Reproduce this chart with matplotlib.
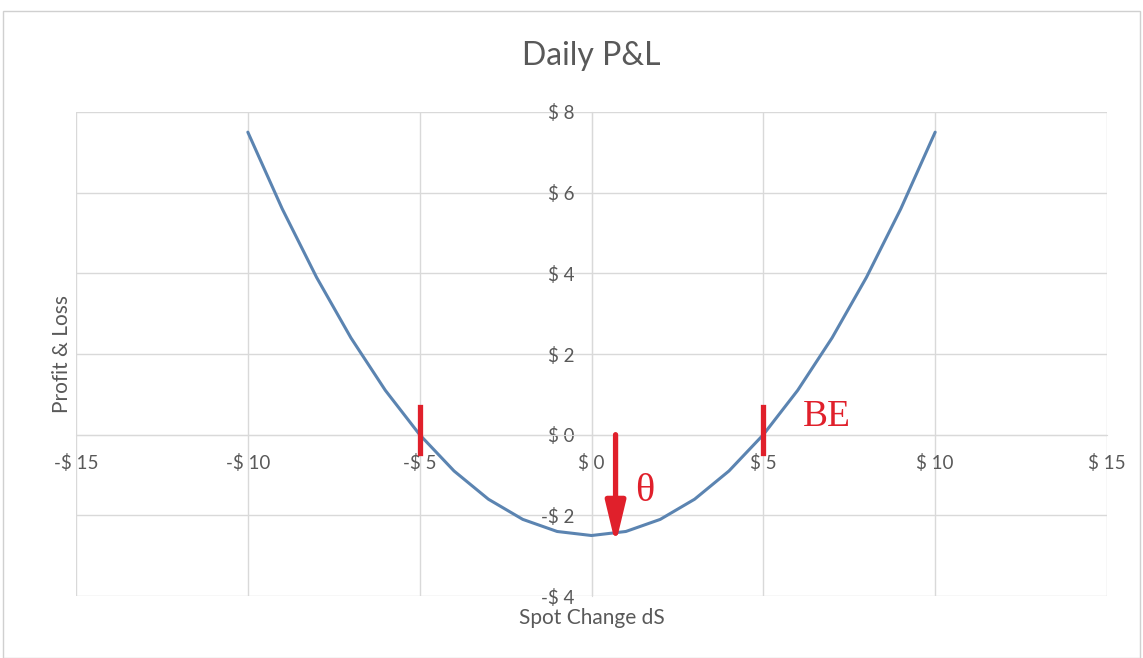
import matplotlib.pyplot as plt
from matplotlib.patches import Rectangle

plt.rcParams['font.family'] = ['Lato', 'DejaVu Sans']

# Data
spot_change = [-10, -9, -8, -7, -6, -5, -4, -3, -2, -1, 0,
               1, 2, 3, 4, 5, 6, 7, 8, 9, 10]
pnl = [7.5, 5.6, 3.9, 2.4, 1.1, 0.0, -0.9, -1.6, -2.1, -2.4, -2.5,
       -2.4, -2.1, -1.6, -0.9, 0.0, 1.1, 2.4, 3.9, 5.6, 7.5]
x_ticks = [-15, -10, -5, 0, 5, 10, 15]
y_ticks = [-4, -2, 0, 2, 4, 6, 8]
breakeven = [-5, 5]
theta_x = 0.7
theta_drop = -2.72

grey_text = '#595959'
grid_col = '#D9D9D9'
red = '#E0202B'
line_blue = '#5B84B1'


def money(v):
    return f"-$ {abs(v)}" if v < 0 else f"$ {v}"


fig = plt.figure(figsize=(11.43, 6.58), dpi=100)
ax = fig.add_axes([0.0665, 0.0942, 0.902, 0.7356])

# light frame round the chart
fig.patches.append(Rectangle((0.003, 0.0), 0.994, 0.983, transform=fig.transFigure,
                             fill=False, edgecolor='#D0D0D0', lw=1))

ax.plot(spot_change, pnl, color=line_blue, lw=2.2, solid_capstyle='round',
        solid_joinstyle='round', zorder=3)

ax.set_xlim(-15, 15)
ax.set_ylim(-4, 8)
ax.set_xticks(x_ticks)
ax.set_yticks(y_ticks)
ax.set_xticklabels([money(v) for v in x_ticks])
ax.set_yticklabels([money(v) for v in y_ticks])
ax.grid(color=grid_col, lw=1)
ax.set_axisbelow(True)

for side in ['top', 'right']:
    ax.spines[side].set_visible(False)
ax.spines['left'].set_position(('data', 0))
ax.spines['bottom'].set_position(('data', 0))
ax.spines['left'].set_color(grid_col)
ax.spines['bottom'].set_color(grid_col)
ax.tick_params(axis='both', length=0, labelsize=13.5, labelcolor=grey_text)
ax.tick_params(axis='y', pad=12)
ax.tick_params(axis='x', pad=14)

ax.set_title("Daily P&L", fontsize=23, color=grey_text, pad=34)
ax.set_xlabel("Spot Change dS", fontsize=15, color=grey_text)
ax.set_ylabel("Profit & Loss", fontsize=15, color=grey_text)
ax.xaxis.set_label_coords(0.5, -0.025, transform=ax.transAxes)
ax.xaxis.label.set_verticalalignment('top')
ax.yaxis.set_label_coords(-0.004, 0.5, transform=ax.transAxes)

# break-even markers
for be in breakeven:
    ax.plot([be, be], [-0.45, 0.68], color=red, lw=3.8, zorder=4)
ax.text(6.15, 0.44, "BE", color=red, fontsize=27, family='Liberation Serif',
        va='center', ha='left')

# theta decay arrow
ax.annotate('', xy=(theta_x, theta_drop), xytext=(theta_x, 0),
            arrowprops=dict(arrowstyle='-|>,head_length=2.5,head_width=0.6',
                            color=red, lw=3.8, shrinkA=0, shrinkB=0), zorder=5)
ax.text(1.55, -1.4, "θ", color=red, fontsize=29, family='Liberation Serif',
        va='center', ha='center')

plt.savefig('out.png', dpi=100)
